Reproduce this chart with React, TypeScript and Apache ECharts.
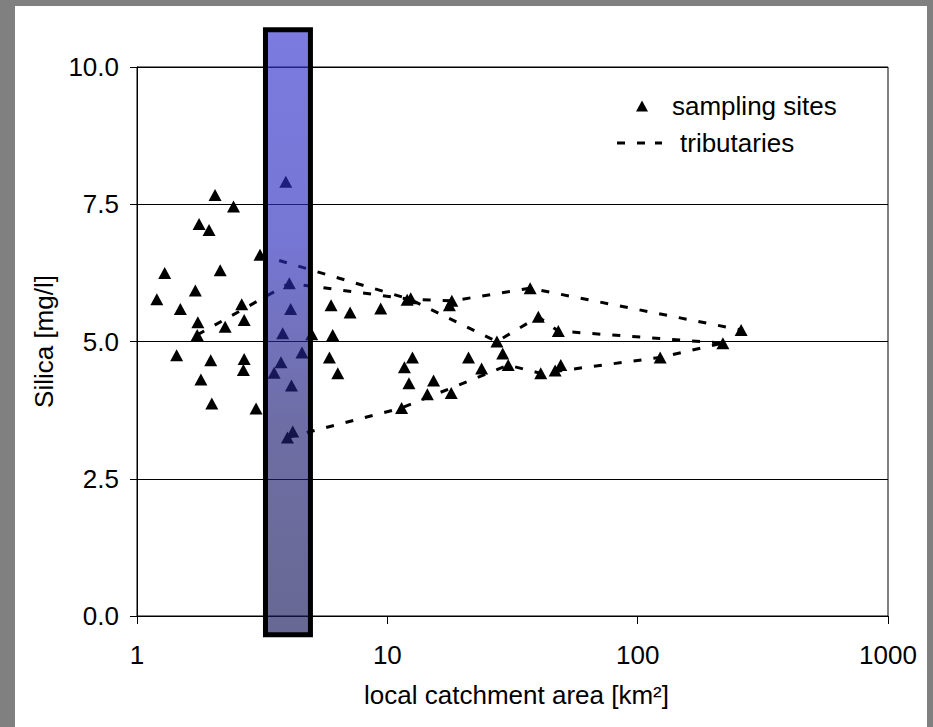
import React, { useEffect, useRef } from "react";
import * as echarts from "echarts";

// sampling sites (local catchment area km², silica mg/l)
const siteX = [
  3.93, 2.05, 2.43, 1.77, 1.94, 3.1, 1.29, 2.15, 4.06, 1.71, 1.2, 1.49, 2.62, 4.11, 2.68, 1.75,
  2.25, 1.74, 3.82, 4.99, 6.05, 5.96, 7.1, 9.41, 1.44, 1.97, 2.68, 2.66, 1.8, 4.56, 3.76, 3.53,
  4.14, 5.87, 6.34, 1.99, 2.99, 4.19, 3.99, 12.0, 12.4, 18.1, 17.7, 37.2, 40.1, 48.2, 259, 219,
  123, 27.4, 28.9, 30.4, 41.0, 46.8, 49.3, 12.6, 11.7, 12.2, 15.3, 14.45, 18.0, 21.1, 23.8, 11.4,
];
const siteY = [
  7.91, 7.67, 7.46, 7.14, 7.03, 6.58, 6.25, 6.3, 6.06, 5.93, 5.77, 5.59, 5.68, 5.59, 5.39, 5.35,
  5.27, 5.12, 5.15, 5.13, 5.12, 5.66, 5.53, 5.6, 4.75, 4.66, 4.68, 4.48, 4.31, 4.8, 4.62, 4.43,
  4.2, 4.71, 4.42, 3.87, 3.78, 3.36, 3.25, 5.76, 5.79, 5.74, 5.66, 5.97, 5.45, 5.19, 5.21, 4.97,
  4.71, 5.0, 4.78, 4.57, 4.42, 4.47, 4.57, 4.71, 4.53, 4.24, 4.29, 4.04, 4.06, 4.71, 4.51, 3.79,
];

// tributaries (polylines through sites)
const trib1X = [3.1, 12.3, 27.4, 40.1, 48.2, 219];
const trib1Y = [6.58, 5.77, 5.0, 5.45, 5.19, 4.97];
const trib2X = [1.74, 4.06, 12.3, 18.1, 37.2, 259];
const trib2Y = [5.12, 6.06, 5.77, 5.74, 5.97, 5.21];
const trib3X = [3.99, 11.4, 30.4, 41.0, 123, 219];
const trib3Y = [3.25, 3.79, 4.57, 4.42, 4.71, 4.97];

// highlighted band: [xFrom, xTo, yTop, yBottom]
const bandX = [3.26, 4.93];
const bandY = [10.68, -0.34];

const yTicks = { min: 0, max: 10, interval: 2.5 };
const xRange = { min: 1, max: 1000 };

const FONT = "'Liberation Sans', Arial, Helvetica, sans-serif";

const zip = (xs: number[], ys: number[]) => xs.map((x, i) => [x, ys[i]]);

export default function App() {
  const ref = useRef<HTMLDivElement>(null);
  useEffect(() => {
    if (!ref.current) return;
    const chart = echarts.init(ref.current, null, { renderer: "svg" });
    const lineStyle = { color: "#000", width: 3, type: [8, 12] as any };
    const tribSeries = [zip(trib1X, trib1Y), zip(trib2X, trib2Y), zip(trib3X, trib3Y)].map((d) => ({
      type: "line",
      name: "tributaries",
      data: d,
      symbol: "none",
      showSymbol: false,
      itemStyle: { color: "#000" },
      lineStyle,
      z: 3,
      silent: true,
    }));
    const textStyle = { fontSize: 26, color: "#000", fontFamily: FONT };
    chart.setOption({
      animation: false,
      backgroundColor: "#808080",
      textStyle: { fontFamily: FONT },
      graphic: [
        {
          type: "rect",
          z: -10,
          shape: { x: 15, y: 6, width: 912, height: 730 },
          style: { fill: "#fff" },
          silent: true,
        },
      ],
      grid: {
        left: 137,
        right: 45,
        top: 67,
        bottom: 111,
        show: true,
        borderColor: "#000",
        borderWidth: 1,
        backgroundColor: "transparent",
      },
      legend: [
        {
          left: 636,
          top: 91,
          orient: "vertical",
          padding: 0,
          itemWidth: 12,
          itemHeight: 11,
          selectedMode: false,
          data: [{ name: "sampling sites", icon: "triangle", itemStyle: { color: "#000", opacity: 1 } }],
          textStyle: { ...textStyle, lineHeight: 30, padding: [0, 0, 0, 19] },
        },
        {
          left: 617,
          top: 128,
          orient: "vertical",
          padding: 0,
          itemWidth: 45,
          itemHeight: 3,
          selectedMode: false,
          data: [
            {
              name: "tributaries",
              icon: "path://M0,0H8V3H0Z M20,0H28V3H20Z M38,0H45V3H38Z",
              itemStyle: { color: "#000" },
            },
          ],
          textStyle: { ...textStyle, lineHeight: 30, padding: [0, 0, 0, 13] },
        },
      ],
      xAxis: {
        type: "log",
        logBase: 10,
        min: xRange.min,
        max: xRange.max,
        name: "local catchment area [km²]",
        nameLocation: "middle",
        nameGap: 66,
        nameTextStyle: { ...textStyle, padding: [0, 0, 0, 8] },
        axisLine: { show: true, lineStyle: { color: "#000", width: 1 } },
        axisTick: { show: true, length: 8, lineStyle: { color: "#000" } },
        minorTick: { show: false },
        splitLine: { show: false },
        axisLabel: { ...textStyle, margin: 26, formatter: (v: number) => String(Math.round(v)) },
      },
      yAxis: {
        type: "value",
        min: yTicks.min,
        max: yTicks.max,
        interval: yTicks.interval,
        name: "Silica [mg/l]",
        nameLocation: "middle",
        nameGap: 77,
        nameTextStyle: textStyle,
        axisLine: { show: true, lineStyle: { color: "#000", width: 1 } },
        axisTick: { show: true, length: 7, lineStyle: { color: "#000" } },
        splitLine: { show: true, lineStyle: { color: "#000", width: 1 } },
        axisLabel: { ...textStyle, margin: 18, formatter: (v: number) => v.toFixed(1) },
      },
      series: [
        ...tribSeries,
        {
          type: "scatter",
          name: "sampling sites",
          data: zip(siteX, siteY),
          symbol: "triangle",
          symbolSize: [13, 12],
          itemStyle: { color: "#000", opacity: 1 },
          z: 4,
          silent: true,
        },
        {
          type: "custom",
          name: "band",
          z: 6,
          silent: true,
          clip: false,
          encode: { x: [0, 1], y: [2, 3] },
          data: [[bandX[0], bandX[1], bandY[0], bandY[1]]],
          renderItem: (params: any, api: any) => {
            const p1 = api.coord([api.value(0), api.value(2)]);
            const p2 = api.coord([api.value(1), api.value(3)]);
            return {
              type: "rect",
              shape: { x: p1[0], y: p1[1], width: p2[0] - p1[0], height: p2[1] - p1[1] },
              style: {
                fill: new echarts.graphic.LinearGradient(0, 0, 0, 1, [
                  { offset: 0, color: "rgba(52,52,207,0.65)" },
                  { offset: 0.35, color: "rgba(44,44,189,0.65)" },
                  { offset: 0.65, color: "rgba(32,32,117,0.65)" },
                  { offset: 1, color: "rgba(23,23,90,0.65)" },
                ]),
                stroke: "#000",
                lineWidth: 5,
              },
            };
          },
        },
      ],
    });
    return () => chart.dispose();
  }, []);
  return (
    <div
      ref={ref}
      style={{ position: "absolute", left: 0, top: 0, width: 933, height: 727 }}
    />
  );
}
